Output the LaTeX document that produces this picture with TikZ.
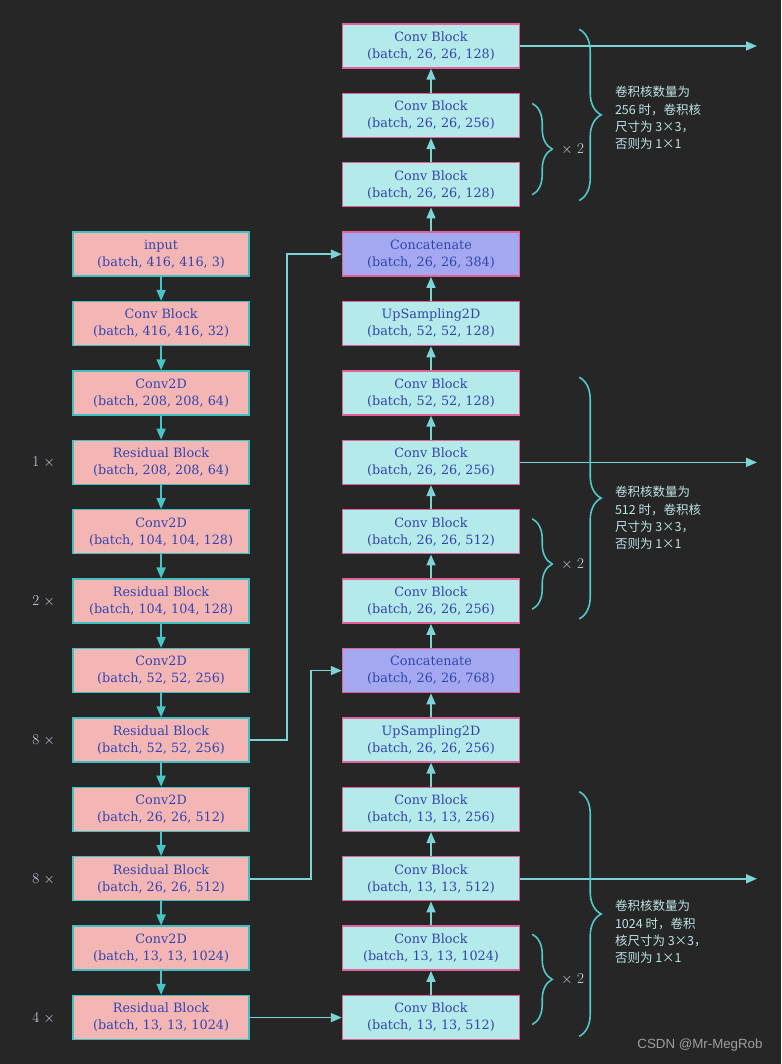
\documentclass[tikz,border=0pt]{standalone}
\usepackage{fontspec}
\newfontfamily\zhfont{Noto Sans CJK SC}
\newfontfamily\wmfont{Liberation Sans}
\newfontfamily\boxfont{DejaVu Serif}
\usetikzlibrary{positioning,arrows.meta,decorations.pathreplacing}
\definecolor{bgcol}{RGB}{38,38,38}
\definecolor{lfill}{RGB}{244,182,180}
\definecolor{ledge}{RGB}{64,192,192}
\definecolor{rfill}{RGB}{180,234,234}
\definecolor{redge}{RGB}{228,96,152}
\definecolor{cfill}{RGB}{164,168,240}
\definecolor{tblue}{RGB}{50,68,172}
\definecolor{larrow}{RGB}{70,196,200}
\definecolor{rarrow}{RGB}{124,212,212}
\definecolor{bracecol}{RGB}{84,200,200}
\definecolor{repcol}{RGB}{214,212,236}
\definecolor{notecol}{RGB}{190,228,228}

\begin{document}
\begin{tikzpicture}[x=1pt, y=1pt, >={Triangle[length=11pt,width=9pt]},
  font=\fontsize{15}{18.5}\selectfont, node distance=24pt,
  lbox/.style={draw=ledge, fill=lfill, line width=1.4pt, minimum width=176pt, minimum height=44pt, inner sep=1pt, align=center, text=tblue, font=\boxfont\fontsize{12.8}{17}\selectfont, execute at begin node={\rule{0pt}{14.5pt}}},
  rbox/.style={lbox, draw=redge, fill=rfill, minimum width=177pt},
  cbox/.style={rbox, fill=cfill},
  down/.style={->, draw=larrow, line width=1.6pt},
  up/.style={->, draw=rarrow, line width=1.6pt},
  brc/.style={decorate, decoration={brace, amplitude=#1}, draw=bracecol, line width=1.6pt},
  rep/.style={text=repcol},
  note/.style={text=notecol, align=left, inner sep=0pt, font=\zhfont\fontsize{12.5}{17.3}\selectfont}]
\fill[bgcol] (0,0) rectangle (781,1064);
\useasboundingbox (0,0) rectangle (781,1064);
% right column
\node[rbox] (r0) at (431,1018) {Conv Block\\(batch, 26, 26, 128)};
\node[rbox, below=of r0] (r1) {Conv Block\\(batch, 26, 26, 256)};
\node[rbox, below=of r1] (r2) {Conv Block\\(batch, 26, 26, 128)};
\node[cbox, below=of r2] (r3) {Concatenate\\(batch, 26, 26, 384)};
\node[rbox, below=of r3] (r4) {UpSampling2D\\(batch, 52, 52, 128)};
\node[rbox, below=of r4] (r5) {Conv Block\\(batch, 52, 52, 128)};
\node[rbox, below=of r5] (r6) {Conv Block\\(batch, 26, 26, 256)};
\node[rbox, below=of r6] (r7) {Conv Block\\(batch, 26, 26, 512)};
\node[rbox, below=of r7] (r8) {Conv Block\\(batch, 26, 26, 256)};
\node[cbox, below=of r8] (r9) {Concatenate\\(batch, 26, 26, 768)};
\node[rbox, below=of r9] (r10) {UpSampling2D\\(batch, 26, 26, 256)};
\node[rbox, below=of r10] (r11) {Conv Block\\(batch, 13, 13, 256)};
\node[rbox, below=of r11] (r12) {Conv Block\\(batch, 13, 13, 512)};
\node[rbox, below=of r12] (r13) {Conv Block\\(batch, 13, 13, 1024)};
\node[rbox, below=of r13] (r14) {Conv Block\\(batch, 13, 13, 512)};
% left column (backbone)
\node[lbox, left=92pt of r3] (l3) {input\\(batch, 416, 416, 3)};
\node[lbox, below=of l3] (l4) {Conv Block\\(batch, 416, 416, 32)};
\node[lbox, below=of l4] (l5) {Conv2D\\(batch, 208, 208, 64)};
\node[lbox, below=of l5] (l6) {Residual Block\\(batch, 208, 208, 64)};
\node[lbox, below=of l6] (l7) {Conv2D\\(batch, 104, 104, 128)};
\node[lbox, below=of l7] (l8) {Residual Block\\(batch, 104, 104, 128)};
\node[lbox, below=of l8] (l9) {Conv2D\\(batch, 52, 52, 256)};
\node[lbox, below=of l9] (l10) {Residual Block\\(batch, 52, 52, 256)};
\node[lbox, below=of l10] (l11) {Conv2D\\(batch, 26, 26, 512)};
\node[lbox, below=of l11] (l12) {Residual Block\\(batch, 26, 26, 512)};
\node[lbox, below=of l12] (l13) {Conv2D\\(batch, 13, 13, 1024)};
\node[lbox, below=of l13] (l14) {Residual Block\\(batch, 13, 13, 1024)};
\node[rep, left=14pt of l6] (n6) {1 $\times$};
\node[rep, left=14pt of l8] (n8) {2 $\times$};
\node[rep, left=14pt of l10] (n10) {8 $\times$};
\node[rep, left=14pt of l12] (n12) {8 $\times$};
\node[rep, left=14pt of l14] (n14) {4 $\times$};
\coordinate (outx) at (757,0);
\foreach \i in {4,...,14} {\pgfmathtruncatemacro\j{\i-1} \draw[down] (l\j) -- (l\i);}
\foreach \i in {1,...,14} {\pgfmathtruncatemacro\j{\i-1} \draw[up] (r\i) -- (r\j);}
\draw[up] (l10.east) -- ++(37,0) |- (r3.west);
\draw[up] (l12.east) -- ++(61,0) |- (r9.west);
\draw[up] (l14) -- (r14);
\foreach \r in {r0,r6,r12} \draw[up] (\r.east) -- (\r.east -| outx);
% braces
\draw[brc=22pt] ([xshift=59pt,yshift=-6pt]r0.north east) -- ([xshift=59pt,yshift=7pt]r2.south east)
  node[note, midway, anchor=west, xshift=35pt, yshift=-3pt] (t1) {卷积核数量为\\256\ 时，卷积核\\尺寸为\ 3×3，\\否则为\ 1×1};
\draw[brc=20pt] ([xshift=12pt,yshift=12pt]r1.east) -- ([xshift=12pt,yshift=-10pt]r2.east)
  node[rep, midway, anchor=west, xshift=25pt] (x1) {$\times$ 2};
\draw[brc=22pt] ([xshift=59pt,yshift=-7pt]r5.north east) -- ([xshift=59pt,yshift=5pt]r8.south east)
  node[note, midway, anchor=west, xshift=35pt, yshift=-20pt] (t2) {卷积核数量为\\512\ 时，卷积核\\尺寸为\ 3×3，\\否则为\ 1×1};
\draw[brc=20pt] ([xshift=12pt,yshift=13pt]r7.east) -- ([xshift=12pt,yshift=-8pt]r8.east)
  node[rep, midway, anchor=west, xshift=25pt] (x2) {$\times$ 2};
\draw[brc=22pt] ([xshift=59pt,yshift=-5pt]r11.north east) -- ([xshift=59pt,yshift=4pt]r14.south east)
  node[note, midway, anchor=west, xshift=35pt, yshift=-18pt] (t3) {卷积核数量为\\1024\ 时，卷积\\核尺寸为\ 3×3，\\否则为\ 1×1};
\draw[brc=20pt] ([xshift=12pt,yshift=14pt]r13.east) -- ([xshift=12pt,yshift=-7pt]r14.east)
  node[rep, midway, anchor=west, xshift=25pt] (x3) {$\times$ 2};
\node[text=gray!75, font=\wmfont\fontsize{13.3}{15}\selectfont] (wm) at (700,19) {CSDN @Mr-MegRob};
\end{tikzpicture}
\end{document}
